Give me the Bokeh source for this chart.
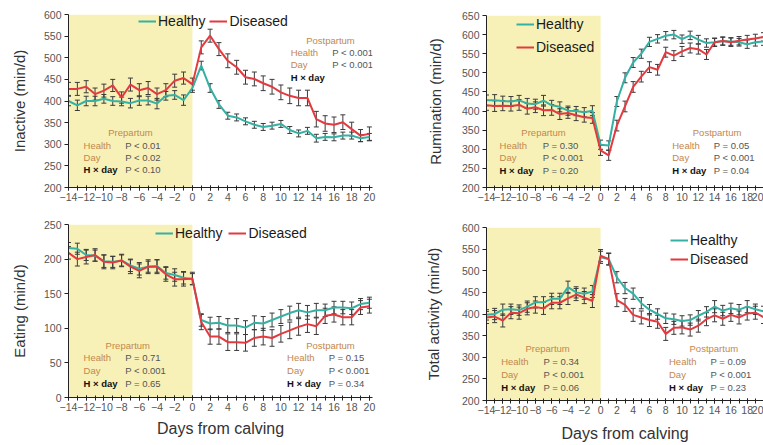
from bokeh.plotting import figure
from bokeh.models import (Range1d, BoxAnnotation, Whisker, TeeHead, ColumnDataSource,
                          SingleIntervalTicker, Legend, LegendItem, Label)
from bokeh.layouts import row, column
from bokeh.embed import file_html
from bokeh.resources import INLINE

# ---------------- data ----------------
days = list(range(-14, 21))

inactive_healthy = [400, 390, 400, 400, 405, 400, 399, 395, 401, 401, 394, 412, 414, 402, 430,
                    482, 430, 392, 366, 362, 353, 345, 340, 343, 347, 333, 325, 331, 314, 317,
                    316, 320, 320, 314, 317]
inactive_healthy_se = [11, 12, 11, 11, 10, 10, 10, 11, 11, 10, 12, 10, 10, 12, 10,
                       10, 10, 9, 8, 8, 8, 8, 8, 8, 8, 8, 8, 8, 9, 8, 8, 8, 8, 8, 8]
inactive_diseased = [428, 428, 433, 416, 424, 436, 408, 438, 425, 430, 416, 425, 447, 453, 439,
                     524, 551, 520, 493, 478, 455, 451, 441, 433, 420, 412, 407, 407, 358, 348,
                     345, 351, 335, 320, 324]
inactive_diseased_se = [15, 15, 14, 14, 15, 14, 13, 15, 15, 15, 14, 15, 15, 14, 14,
                        15, 15, 15, 16, 16, 16, 16, 17, 17, 17, 18, 18, 18, 18, 18, 18, 17, 16, 14, 16]

rum_healthy = [428, 428, 426, 425, 428, 420, 418, 427, 415, 411, 401, 400, 397, 401, 312,
               310, 425, 487, 527, 550, 581, 589, 597, 600, 588, 598, 587, 578, 580, 583,
               582, 580, 575, 580, 582]
rum_healthy_se = [14, 15, 13, 13, 13, 13, 13, 14, 13, 13, 12, 12, 12, 13, 12,
                  12, 13, 13, 13, 12, 12, 11, 11, 11, 11, 11, 11, 11, 10, 10, 10, 10, 11, 10, 10]
rum_diseased = [415, 413, 414, 413, 416, 406, 410, 402, 403, 392, 395, 389, 384, 382, 297,
                284, 362, 412, 463, 490, 515, 508, 554, 545, 556, 565, 562, 548, 580, 583,
                580, 584, 587, 590, 594]
rum_diseased_se = [13, 14, 13, 13, 14, 14, 14, 14, 14, 14, 14, 14, 13, 14, 13,
                   13, 14, 14, 14, 14, 14, 14, 13, 13, 13, 13, 13, 13, 11, 11, 11, 11, 11, 11, 11]

eat_healthy = [216, 215, 206, 205, 197, 196, 198, 191, 186, 189, 190, 180, 177, 173, 171,
               112, 107, 108, 104, 104, 101, 108, 107, 112, 117, 122, 126, 123, 126, 126,
               130, 130, 129, 135, 137]
eat_healthy_se = [8, 8, 8, 8, 9, 8, 8, 9, 9, 8, 9, 9, 9, 9, 8,
                  9, 9, 9, 10, 10, 10, 10, 10, 10, 10, 10, 10, 10, 10, 9, 9, 9, 9, 8, 8]
eat_diseased = [209, 200, 203, 206, 196, 195, 198, 189, 183, 189, 189, 178, 171, 171, 172,
                109, 88, 88, 80, 80, 79, 86, 88, 86, 92, 97, 102, 106, 103, 118,
                120, 116, 116, 130, 132]
eat_diseased_se = [9, 10, 10, 9, 10, 9, 9, 10, 10, 10, 10, 10, 10, 10, 9,
                   11, 11, 11, 12, 12, 12, 12, 12, 12, 12, 12, 12, 12, 12, 11, 11, 11, 11, 10, 10]

act_healthy = [398, 400, 410, 411, 409, 417, 427, 427, 435, 435, 462, 450, 447, 452, 531,
               527, 485, 460, 447, 425, 410, 400, 390, 388, 384, 386, 396, 405, 417, 408,
               413, 410, 417, 411, 406]
act_healthy_se = [12, 13, 13, 12, 12, 13, 13, 13, 13, 13, 14, 13, 13, 14, 14,
                  13, 13, 13, 13, 13, 12, 12, 12, 12, 12, 12, 12, 12, 14, 12, 12, 12, 14, 12, 12]
act_diseased = [392, 394, 385, 403, 402, 412, 416, 413, 426, 426, 436, 445, 438, 430, 535,
                527, 432, 421, 398, 392, 386, 382, 354, 368, 369, 364, 373, 388, 397, 389,
                398, 392, 401, 403, 393]
act_diseased_se = [14, 14, 15, 14, 14, 14, 14, 14, 14, 14, 14, 14, 14, 15, 14,
                   14, 15, 15, 15, 15, 15, 15, 15, 15, 15, 15, 15, 15, 15, 15, 15, 15, 15, 15, 15]

stats_inactive_pre = [("Health", "< 0.01"), ("Day", "< 0.02"), ("H \u00d7 day", "< 0.10")]
stats_inactive_post = [("Health", "< 0.001"), ("Day", "< 0.001"), ("H \u00d7 day", "")]
stats_rum_pre = [("Health", "= 0.30"), ("Day", "< 0.001"), ("H \u00d7 day", "= 0.20")]
stats_rum_post = [("Health", "= 0.05"), ("Day", "< 0.001"), ("H \u00d7 day", "= 0.04")]
stats_eat_pre = [("Health", "= 0.71"), ("Day", "< 0.001"), ("H \u00d7 day", "= 0.65")]
stats_eat_post = [("Health", "= 0.15"), ("Day", "< 0.001"), ("H \u00d7 day", "= 0.34")]
stats_act_pre = [("Health", "= 0.34"), ("Day", "< 0.001"), ("H \u00d7 day", "= 0.06")]
stats_act_post = [("Health", "= 0.09"), ("Day", "< 0.001"), ("H \u00d7 day", "= 0.23")]

# ---------------- style ----------------
TEAL = "#35b1a4"
RED = "#e3393f"
SHADE = "#f7f1b7"
FONT = "Liberation Sans"
ORANGE = "#c4874c"


def panel(w, h, bl, br, bt, bb, x_end, y_rng, y_step, ylabel, ylab_sd, xlabel=None, xlab_sd=3):
    p = figure(width=w, height=h, output_backend="svg", toolbar_location=None,
               x_range=Range1d(-14, x_end), y_range=Range1d(*y_rng),
               min_border_left=bl, min_border_right=br, min_border_top=bt, min_border_bottom=bb)
    p.outline_line_color = None
    p.grid.visible = False
    p.background_fill_color = "white"
    p.border_fill_color = "white"
    p.add_layout(BoxAnnotation(left=-14, right=0, fill_color=SHADE, fill_alpha=1,
                               line_alpha=0, level="underlay"))
    xa = p.xaxis[0]
    xa.ticker = SingleIntervalTicker(interval=2, num_minor_ticks=2)
    xa.major_tick_in = 2
    xa.major_tick_out = 3
    xa.minor_tick_in = 2
    xa.minor_tick_out = 3
    xa.minor_tick_line_color = "#222"
    xa.major_label_standoff = 2
    ya = p.yaxis[0]
    ya.ticker = SingleIntervalTicker(interval=y_step, num_minor_ticks=0)
    ya.major_tick_in = 0
    ya.major_tick_out = 4
    ya.major_label_standoff = 3
    for ax in (xa, ya):
        ax.axis_line_color = "#222"
        ax.major_tick_line_color = "#222"
        ax.major_label_text_font = FONT
        ax.major_label_text_font_size = "10.5px"
        ax.major_label_text_color = "#555"
        ax.axis_label_text_font = FONT
        ax.axis_label_text_font_style = "normal"
        ax.axis_label_text_color = "#333"
    ya.axis_label = ylabel
    ya.axis_label_text_font_size = "15px"
    ya.axis_label_standoff = ylab_sd
    if xlabel:
        xa.axis_label = xlabel
        xa.axis_label_text_font_size = "16px"
        xa.axis_label_standoff = xlab_sd
    return p


def add_series(p, healthy, hse, diseased, dse):
    rh = p.line(days, healthy, line_color=TEAL, line_width=2)
    rd = p.line(days, diseased, line_color=RED, line_width=2)
    for vals, se in ((healthy, hse), (diseased, dse)):
        src = ColumnDataSource(dict(x=days,
                                    upper=[v + s for v, s in zip(vals, se)],
                                    lower=[v - s for v, s in zip(vals, se)]))
        p.add_layout(Whisker(base="x", upper="upper", lower="lower", source=src,
                             line_color="#3a3a3a", line_width=1,
                             upper_head=TeeHead(size=5, line_color="#3a3a3a", line_width=1),
                             lower_head=TeeHead(size=5, line_color="#3a3a3a", line_width=1)))
    return rh, rd


def add_legend(p, rh, rd, loc, orientation, spacing):
    leg = Legend(items=[LegendItem(label="Healthy", renderers=[rh]),
                        LegendItem(label="Diseased", renderers=[rd])],
                 location=loc, orientation=orientation, spacing=spacing,
                 padding=0, margin=0, glyph_width=18, glyph_height=18, label_height=18,
                 label_standoff=2, label_text_font=FONT, label_text_font_size="14px",
                 label_text_color="#1a1a1a", background_fill_alpha=0, border_line_alpha=0)
    p.add_layout(leg)


def add_stats(p, header, hx, hy, lx, px, rows_y, stats):
    p.add_layout(Label(x=hx, y=hy, text=header, text_font=FONT, text_font_size="9.5px",
                       text_color=ORANGE, text_align="center", text_baseline="middle"))
    for (name, pv), yy in zip(stats, rows_y):
        bold = name.startswith("H ")
        p.add_layout(Label(x=lx, y=yy, text=name, text_font=FONT, text_font_size="9.5px",
                           text_color="#111" if bold else ORANGE,
                           text_font_style="bold" if bold else "normal",
                           text_align="left", text_baseline="middle"))
        if pv:
            p.add_layout(Label(x=px, y=yy, text="P " + pv, text_font=FONT,
                               text_font_size="9.5px", text_color="#555",
                               text_align="left", text_baseline="middle"))


# ---------------- panels ----------------
p1 = panel(380, 208, 68, 8, 14, 21, 20.35, (200, 600), 50, "Inactive (min/d)", 13)
h, d = add_series(p1, inactive_healthy, inactive_healthy_se, inactive_diseased, inactive_diseased_se)
add_legend(p1, h, d, (70, 157), "horizontal", 4)
add_stats(p1, "Prepartum", -7.0, 327, -12.3, -7.6, [297, 269, 242], stats_inactive_pre)
add_stats(p1, "Postpartum", 15.6, 540, 11.1, 15.8, [512, 484, 454], stats_inactive_post)

p3 = panel(380, 237, 68, 8, 16, 48, 20.35, (0, 250), 50, "Eating (min/d)", 13,
           "Days from calving", 6)
h, d = add_series(p3, eat_healthy, eat_healthy_se, eat_diseased, eat_diseased_se)
add_legend(p3, h, d, (87, 155), "horizontal", 6)
add_stats(p3, "Prepartum", -7.3, 75, -12.3, -7.6, [58, 39, 20], stats_eat_pre)
add_stats(p3, "Postpartum", 15.6, 75, 10.7, 15.4, [58, 39, 20], stats_eat_post)

p2 = panel(383, 208, 106, 0, 15, 21, 20, (200, 650), 50, "Rumination (min/d)", 15)
h, d = add_series(p2, rum_healthy, rum_healthy_se, rum_diseased, rum_diseased_se)
add_legend(p2, h, d, (30, 131), "vertical", 5)
add_stats(p2, "Prepartum", -7.0, 344, -12.4, -7.1, [310, 279, 244], stats_rum_pre)
add_stats(p2, "Postpartum", 14.3, 344, 8.8, 13.9, [310, 279, 244], stats_rum_post)

p4 = panel(383, 237, 106, 0, 19, 45, 20, (200, 600), 50, "Total activity (min/d)", 17,
           "Days from calving", 8)
h, d = add_series(p4, act_healthy, act_healthy_se, act_diseased, act_diseased_se)
add_legend(p4, h, d, (184, 132), "vertical", 1)
add_stats(p4, "Prepartum", -6.5, 321, -12.2, -7.0, [290, 260, 230], stats_act_pre)
add_stats(p4, "Postpartum", 13.9, 321, 8.4, 13.5, [290, 260, 230], stats_act_post)

layout = row(column(p1, p3), column(p2, p4))

open("out.html", "w").write(file_html(layout, INLINE))
